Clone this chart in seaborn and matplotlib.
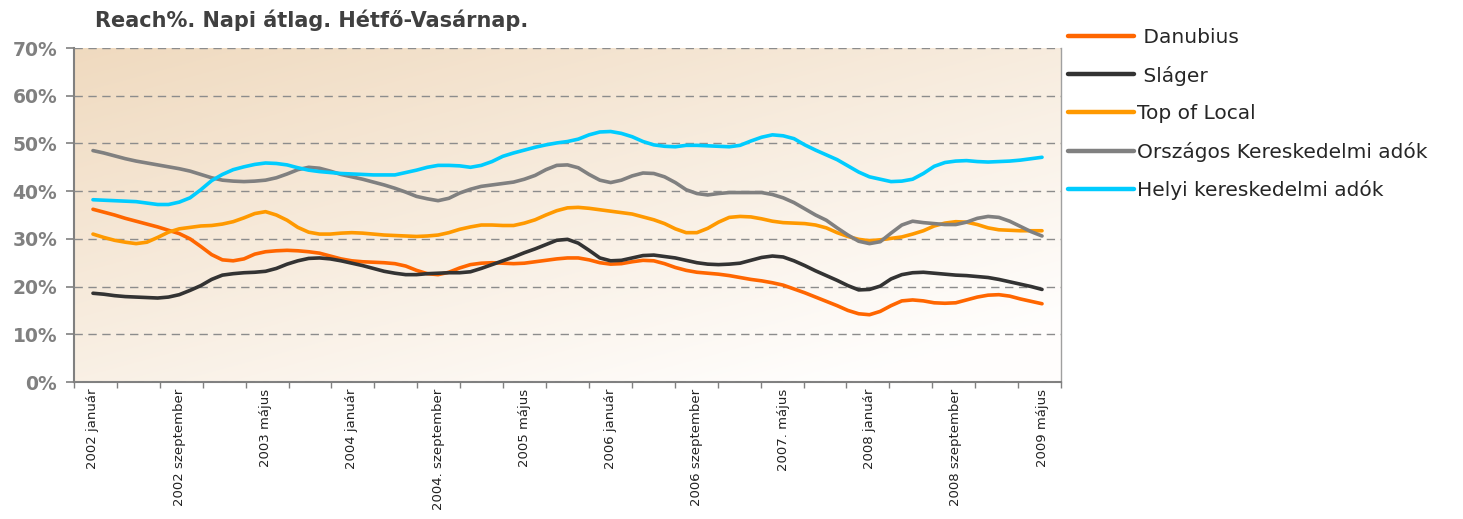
import numpy as np
import pandas as pd
import matplotlib
matplotlib.use("Agg")
import matplotlib.pyplot as plt
import seaborn as sns
from matplotlib.lines import Line2D

# Sorozatok (Reach%, havi adatok 2002 január - 2009 május)
series_names = [" Danubius", " Sláger", "Top of Local",
                "Országos Kereskedelmi adók", "Helyi kereskedelmi adók"]
colors = ["#ff6600", "#333333", "#ff9900", "#808080", "#00ccff"]

danubius = [36.2, 35.6, 35.0, 34.3, 33.7, 33.1, 32.5, 31.8, 31.1, 30.0,
            28.4, 26.7, 25.6, 25.4, 25.8, 26.8, 27.3, 27.5, 27.6, 27.5,
            27.3, 27.0, 26.4, 25.8, 25.4, 25.2, 25.1, 25.0, 24.8, 24.3,
            23.4, 22.7, 22.5, 23.0, 23.9, 24.6, 24.9, 25.0, 24.9, 24.8,
            24.9, 25.2, 25.5, 25.8, 26.0, 26.0, 25.6, 25.0, 24.7, 24.8,
            25.2, 25.5, 25.4, 24.8, 24.0, 23.4, 23.0, 22.8, 22.6, 22.3,
            21.9, 21.5, 21.2, 20.8, 20.3, 19.5, 18.7, 17.8, 16.9, 16.0,
            15.0, 14.3, 14.1, 14.8, 16.0, 17.0, 17.2, 17.0, 16.6, 16.5,
            16.6, 17.2, 17.8, 18.2, 18.3, 18.0, 17.4, 16.9, 16.4]

slager = [18.6, 18.4, 18.1, 17.9, 17.8, 17.7, 17.6, 17.8, 18.3, 19.2,
          20.2, 21.5, 22.4, 22.7, 22.9, 23.0, 23.2, 23.8, 24.7, 25.4,
          25.9, 26.0, 25.8, 25.4, 24.9, 24.4, 23.8, 23.2, 22.8, 22.5,
          22.5, 22.7, 22.8, 22.9, 22.9, 23.1, 23.8, 24.6, 25.4, 26.2,
          27.1, 27.9, 28.8, 29.7, 29.9, 29.1, 27.6, 26.0, 25.4, 25.5,
          26.0, 26.5, 26.6, 26.3, 26.0, 25.5, 25.0, 24.7, 24.6, 24.7,
          24.9, 25.5, 26.1, 26.4, 26.2, 25.4, 24.4, 23.3, 22.3, 21.3,
          20.2, 19.3, 19.4, 20.1, 21.6, 22.5, 22.9, 23.0, 22.8, 22.6,
          22.4, 22.3, 22.1, 21.9, 21.5, 21.0, 20.5, 20.0, 19.4]

top_local = [31.0, 30.3, 29.7, 29.3, 29.0, 29.3, 30.3, 31.4, 32.1, 32.4,
             32.7, 32.8, 33.1, 33.6, 34.4, 35.3, 35.7, 35.0, 33.9, 32.4,
             31.4, 31.0, 31.0, 31.2, 31.3, 31.2, 31.0, 30.8, 30.7, 30.6,
             30.5, 30.6, 30.8, 31.3, 32.0, 32.5, 32.9, 32.9, 32.8, 32.8,
             33.3, 34.0, 35.0, 35.9, 36.5, 36.6, 36.4, 36.1, 35.8, 35.5,
             35.2, 34.6, 34.0, 33.2, 32.1, 31.3, 31.3, 32.2, 33.5, 34.5,
             34.7, 34.6, 34.2, 33.7, 33.4, 33.3, 33.2, 32.9, 32.3, 31.3,
             30.5, 29.9, 29.6, 29.8, 30.1, 30.4, 31.0, 31.7, 32.7, 33.3,
             33.6, 33.5, 33.0, 32.3, 31.9, 31.8, 31.7, 31.7, 31.7]

orszagos = [48.5, 48.0, 47.4, 46.8, 46.3, 45.9, 45.5, 45.1, 44.7, 44.2,
            43.5, 42.8, 42.3, 42.1, 42.0, 42.1, 42.3, 42.8, 43.6, 44.5,
            45.0, 44.8, 44.2, 43.5, 43.0, 42.5, 41.9, 41.3, 40.6, 39.8,
            38.9, 38.4, 38.0, 38.5, 39.6, 40.4, 41.0, 41.3, 41.6, 41.9,
            42.5, 43.3, 44.5, 45.4, 45.5, 44.9, 43.5, 42.3, 41.8, 42.3,
            43.2, 43.8, 43.7, 43.0, 41.8, 40.3, 39.5, 39.2, 39.5, 39.7,
            39.7, 39.7, 39.7, 39.3, 38.6, 37.6, 36.3, 35.0, 33.9, 32.3,
            30.8, 29.5, 29.0, 29.4, 31.2, 32.9, 33.7, 33.4, 33.2, 33.0,
            33.0, 33.5, 34.3, 34.7, 34.5, 33.7, 32.6, 31.5, 30.6]

helyi = [38.2, 38.1, 38.0, 37.9, 37.8, 37.5, 37.2, 37.2, 37.7, 38.6,
         40.3, 42.2, 43.5, 44.5, 45.1, 45.6, 45.9, 45.8, 45.5, 44.9,
         44.4, 44.1, 43.9, 43.7, 43.6, 43.5, 43.4, 43.4, 43.4, 43.9,
         44.4, 45.0, 45.4, 45.4, 45.3, 45.0, 45.4, 46.2, 47.3, 48.0,
         48.6, 49.2, 49.7, 50.1, 50.4, 50.9, 51.8, 52.4, 52.5, 52.1,
         51.4, 50.4, 49.7, 49.4, 49.3, 49.6, 49.6, 49.5, 49.4, 49.3,
         49.6, 50.5, 51.3, 51.8, 51.6, 51.0, 49.7, 48.6, 47.6, 46.6,
         45.3, 44.0, 43.0, 42.5, 42.0, 42.1, 42.5, 43.7, 45.2, 46.0,
         46.3, 46.4, 46.2, 46.1, 46.2, 46.3, 46.5, 46.8, 47.1]

tick_labels = ["2002 január", "2002 szeptember", "2003 május", "2004 január",
               "2004. szeptember", "2005 május", "2006 január", "2006 szeptember",
               "2007. május", "2008 január", "2008 szeptember", "2009 május"]
y_ticks = [0, 10, 20, 30, 40, 50, 60, 70]

title = "Reach%. Napi átlag. Hétfő-Vasárnap."

# long formátumú tábla a seabornhoz
all_series = [danubius, slager, top_local, orszagos, helyi]
rows = []
for name, vals in zip(series_names, all_series):
    for i, v in enumerate(vals):
        rows.append({"honap": i, "reach": v, "sorozat": name})
df = pd.DataFrame(rows)
n_months = len(danubius)

sns.set_style("white")
plt.rcParams['font.family'] = ['DejaVu Sans']

fig = plt.figure(figsize=(14.63, 5.19), dpi=100)
ax = fig.add_axes([74 / 1463, 1 - 382 / 519, (1061 - 74) / 1463, (382 - 48) / 519])

# háttér színátmenet (bal fent barnás, jobb lent fehér)
gx, gy = np.meshgrid(np.linspace(0, 1, 300), np.linspace(0, 1, 200))
t = np.clip(0.62 * gy + 0.5 * gx, 0, 1)[..., None]
tan = np.array([0.94, 0.855, 0.75])
white = np.array([1.0, 0.995, 0.99])
grad = tan * (1 - t) + white * t
ax.imshow(grad, extent=(0, 1, 0, 1), transform=ax.transAxes, aspect='auto', zorder=0)

sns.lineplot(data=df, x="honap", y="reach", hue="sorozat", hue_order=series_names,
             palette=dict(zip(series_names, colors)), linewidth=2.6, ax=ax,
             legend=False, sort=False, zorder=3)

x_left = -1.76
x_right = n_months - 1 + 1.76
ax.set_xlim(x_left, x_right)
ax.set_ylim(0, 70)

ax.set_yticks(y_ticks)
ax.set_yticklabels([f"{v}%" for v in y_ticks], fontsize=13.5, fontweight='bold', color='#808080')
ax.tick_params(axis='y', direction='out', length=6, width=1.2, color='#808080', pad=6, left=True)
ax.yaxis.grid(True, linestyle=(0, (6, 4)), color='#8c8c8c', linewidth=1.0)
ax.set_axisbelow(False)
for gl in ax.get_ygridlines():
    gl.set_zorder(1)

ax.set_xticks(list(range(0, n_months, 8)))
ax.set_xticklabels(tick_labels, rotation=90, fontsize=9.5, color='#222222')
ax.set_xticks(np.linspace(x_left, x_right, 24), minor=True)
ax.tick_params(axis='x', which='major', length=0, pad=5)
ax.tick_params(axis='x', which='minor', direction='out', length=4, width=1.0,
               color='#808080', bottom=True)

ax.set_xlabel("")
ax.set_ylabel("")
for side in ['left', 'bottom']:
    ax.spines[side].set_color('#808080')
    ax.spines[side].set_linewidth(1.5)
ax.spines['right'].set_color('#a0a0a0')
ax.spines['right'].set_linewidth(1.0)
ax.spines['top'].set_visible(False)

fig.text(95 / 1463, 1 - 20 / 519, title, fontsize=15, fontweight='bold',
         color='#404040', ha='left', va='center')

handles = [Line2D([0], [0], color=c, lw=3.2) for c in colors]
fig.legend(handles, series_names, loc='upper left',
           bbox_to_anchor=(1068 / 1463, 1 - 28 / 519), frameon=False,
           fontsize=14.5, handlelength=3.3, handletextpad=0.15,
           labelspacing=0.92, borderpad=0, borderaxespad=0)

fig.savefig("out.png", dpi=100, facecolor='white')
